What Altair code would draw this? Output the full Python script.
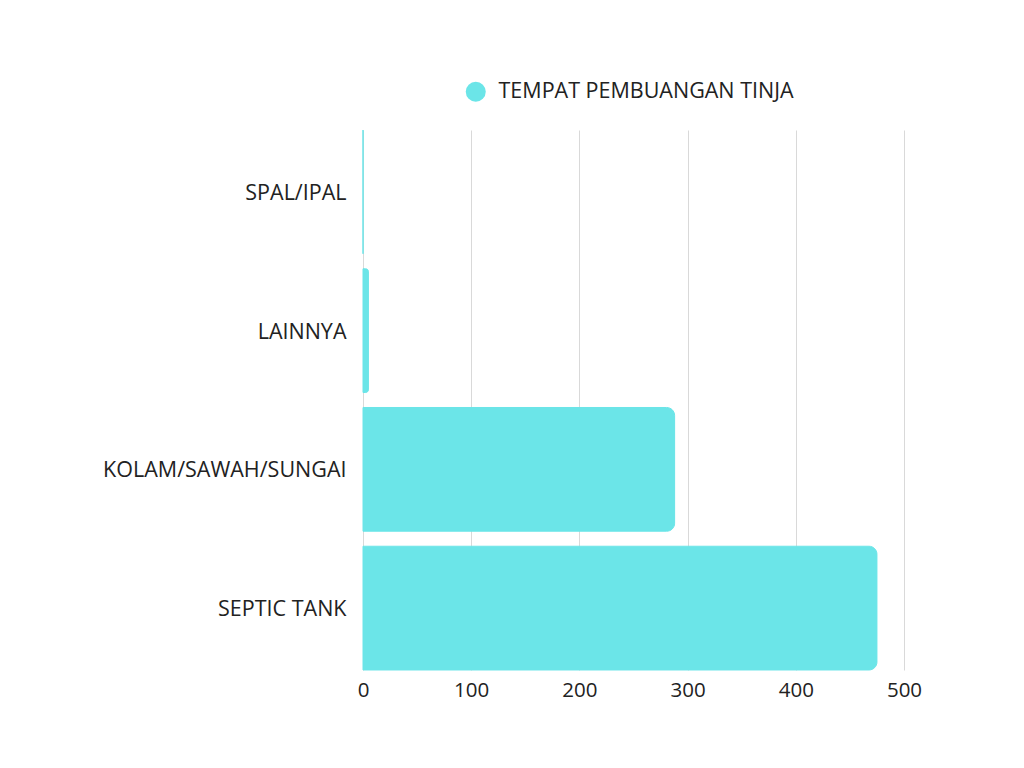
import altair as alt
import pandas as pd

categories = ["SPAL/IPAL", "LAINNYA", "KOLAM/SAWAH/SUNGAI", "SEPTIC TANK"]
values = [0, 5, 288, 475]
series = "TEMPAT PEMBUANGAN TINJA"

df = pd.DataFrame({"kategori": categories, "jumlah": values, "seri": [series] * len(categories)})

chart = alt.Chart(df).mark_bar(cornerRadiusTopRight=8, cornerRadiusBottomRight=8,
                               stroke="#6BE5E8", strokeWidth=1).encode(
    y=alt.Y("kategori:N", sort=categories, title=None,
            scale=alt.Scale(paddingInner=0.108, paddingOuter=0),
            axis=alt.Axis(labelFontSize=21.5, labelColor="#222222", labelPadding=17, labelLimit=400,
                          labelOffset=2, ticks=False, domain=False, grid=False, labelFont="Open Sans")),
    x=alt.X("jumlah:Q", title=None, scale=alt.Scale(domain=[0, 500]),
            axis=alt.Axis(values=[0, 100, 200, 300, 400, 500], labelFontSize=20.5, labelFlush=False,
                          labelColor="#222222", labelPadding=10, ticks=False, domain=False,
                          grid=True, gridColor="#d9d9d9", labelFont="Open Sans")),
    color=alt.Color("seri:N", scale=alt.Scale(range=["#6BE5E8"]),
                    legend=alt.Legend(title=None, orient="none", legendX=102, legendY=-49,
                                      symbolType="circle", symbolSize=400, labelFontSize=21.5,
                                      labelLimit=600, symbolStrokeWidth=0,
                                      labelColor="#222222", labelFont="Open Sans", labelOffset=12)),
).properties(
    width=541, height=540,
    autosize=alt.AutoSizeParams(type="none"),
    padding={"left": 355, "top": 122, "right": 100, "bottom": 80},
).configure_view(stroke=None)

chart.save("out.html", embed_options={"renderer": "svg", "actions": False})
